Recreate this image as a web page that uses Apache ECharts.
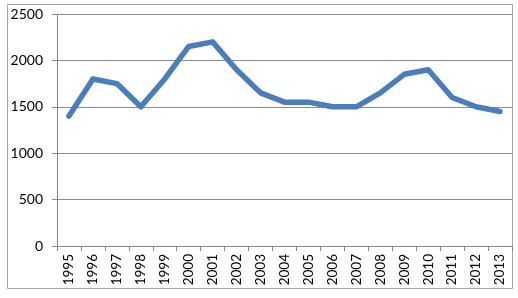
<!DOCTYPE html>
<html><head><meta charset="utf-8">
<script src="https://cdn.jsdelivr.net/npm/echarts@6/dist/echarts.min.js"></script>
<style>html,body{margin:0;padding:0;background:#fff}#c{width:518px;height:298px}</style>
</head><body><div id="c"></div>
<script>
const years = ['1995','1996','1997','1998','1999','2000','2001','2002','2003','2004','2005','2006','2007','2008','2009','2010','2011','2012','2013'];
const values = [1400,1800,1750,1500,1800,2150,2200,1900,1650,1550,1550,1500,1500,1650,1850,1900,1600,1500,1450];
const yTicks = [0,500,1000,1500,2000,2500];

const chart = echarts.init(document.getElementById('c'), null, {renderer:'canvas'});
chart.setOption({
  animation:false,
  backgroundColor:'#fff',
  graphic:[{type:'rect',shape:{x:7.5,y:4.5,width:505,height:284},style:{fill:'none',stroke:'#a6a6a6',lineWidth:1},z:-1}],
  grid:{left:57,right:6,top:14,bottom:52},
  xAxis:{type:'category',data:years,boundaryGap:true,
    axisLine:{lineStyle:{color:'#868686',width:1}},
    axisTick:{show:true,length:5,lineStyle:{color:'#868686'}},
    axisLabel:{rotate:90,color:'#000',fontFamily:'Lato',fontSize:13.5,margin:8,interval:0}},
  yAxis:{type:'value',min:yTicks[0],max:yTicks[yTicks.length-1],interval:500,
    axisLine:{show:true,lineStyle:{color:'#868686',width:1}},
    axisTick:{show:true,length:5,lineStyle:{color:'#868686'}},
    splitLine:{lineStyle:{color:'#8c8c8c',width:1}},
    axisLabel:{color:'#000',fontFamily:'Lato',fontSize:14,margin:14,formatter:v=>String(v)}},
  series:[{type:'line',data:values,symbol:'none',
    lineStyle:{color:'#4a7ebb',width:5.5,cap:'round',join:'round'}}]
});
</script></body></html>
